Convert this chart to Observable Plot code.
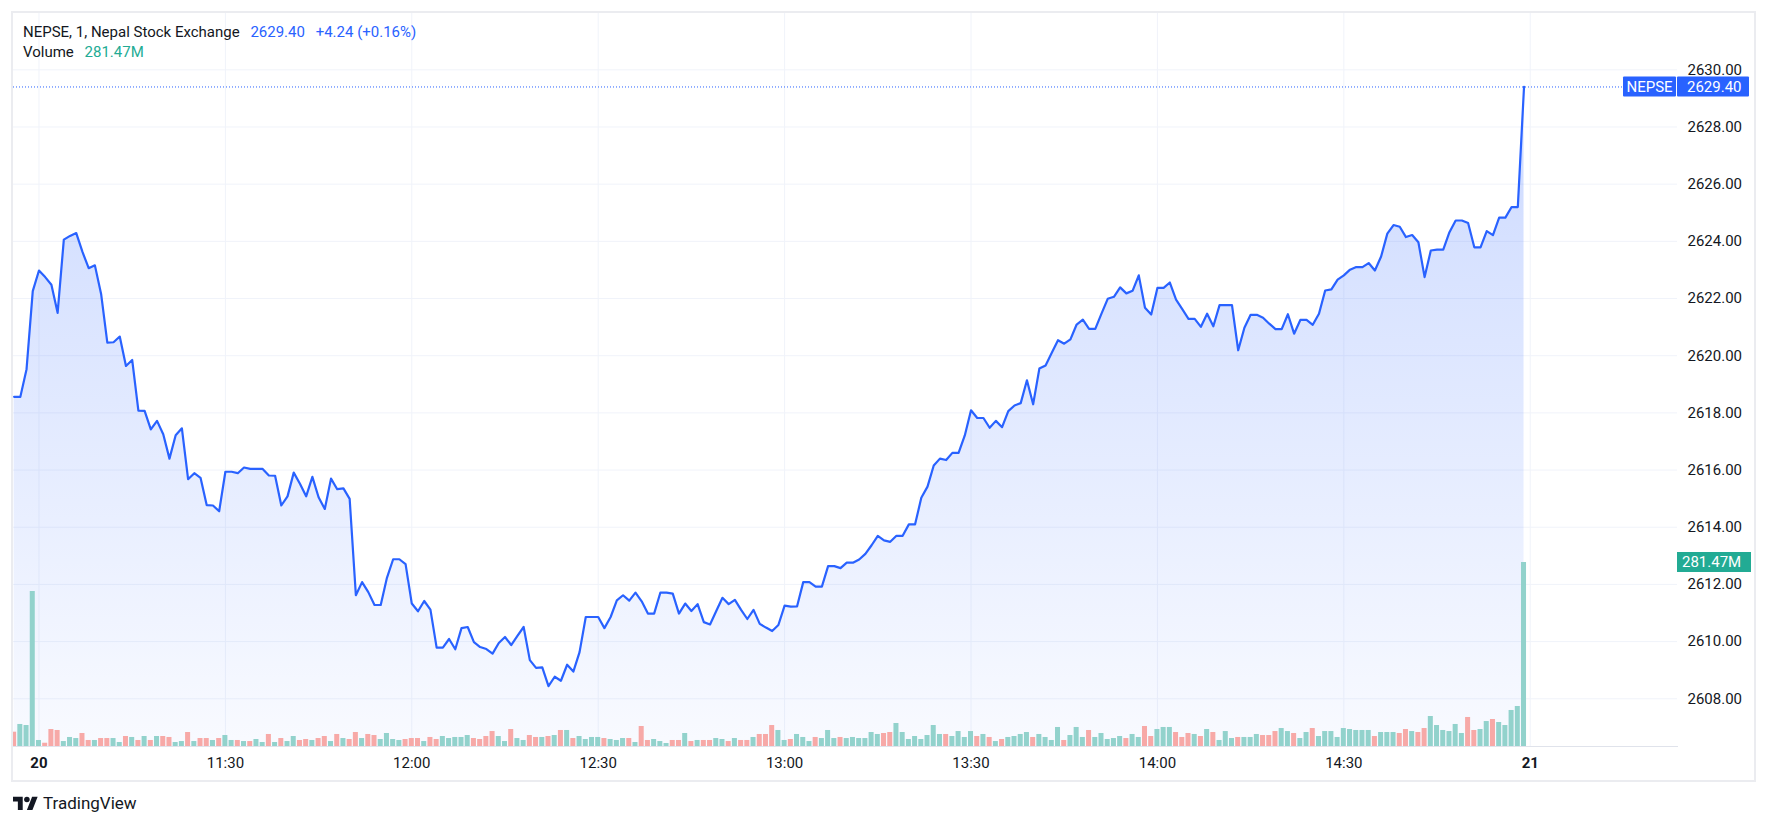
<!DOCTYPE html>
<html>
<head>
<meta charset="utf-8">
<script src="https://cdn.jsdelivr.net/npm/d3@7"></script>
<script src="https://cdn.jsdelivr.net/npm/@observablehq/plot@0.6"></script>
<style>
  html, body { margin: 0; padding: 0; background: #ffffff; }
  body { width: 1767px; height: 825px; overflow: hidden; font-family: Roboto, "Noto Sans", sans-serif; }
  #wrap { position: relative; width: 1767px; height: 825px; }
  #frame { position: absolute; left: 11px; top: 11px; width: 1745px; height: 771px; box-sizing: border-box; border: 2px solid #ebecf0; }
  .layer { position: absolute; left: 0; top: 0; }
  #legend { position: absolute; left: 23px; top: 22px; font-size: 15px; color: #131722; line-height: 20px; }
  #legend span { margin-right: 7px; }
  .blue { color: #2962ff; }
  .green { color: #22ab94; }
  #logo { position: absolute; left: 13px; top: 793px; display: flex; align-items: center; font-size: 17px; color: #131722; }
  #logo svg { margin-right: 5px; }
</style>
</head>
<body>
<div id="wrap">
  <svg width="0" height="0" style="position:absolute">
    <defs>
      <linearGradient id="areaGrad" x1="0" y1="0" x2="0" y2="1">
        <stop offset="0" stop-color="#2962ff" stop-opacity="0.24"></stop>
        <stop offset="1" stop-color="#2962ff" stop-opacity="0.03"></stop>
      </linearGradient>
    </defs>
  </svg>
  <div id="frame"></div>
  <div id="main" class="layer"></div>
  <div id="vol" class="layer"></div>
  <div id="legend">
    <div><span>NEPSE, 1, Nepal Stock Exchange</span> <span class="blue">2629.40</span> <span class="blue">+4.24 (+0.16%)</span></div>
    <div><span>Volume</span> <span class="green">281.47M</span></div>
  </div>
  <div id="logo">
    <svg width="25" height="14" viewBox="0 0 36 20"><path d="M14 20H7V8H0V1h14v19zM28 20h-8L27.5 1h8L28 20z" fill="#131722"></path><circle cx="20" cy="5" r="4" fill="#131722"></circle></svg>
    <span>TradingView</span>
  </div>
</div>
<script>
// ---- data (1-minute bars, index 0..243) ----
const prices = [
  2618.56, 2618.56, 2619.53, 2622.26, 2622.98, 2622.75, 2622.48, 2621.50, 2624.06, 2624.19,
  2624.29, 2623.63, 2623.06, 2623.16, 2622.16, 2620.46, 2620.47, 2620.67, 2619.64, 2619.85,
  2618.08, 2618.07, 2617.42, 2617.72, 2617.25, 2616.40, 2617.22, 2617.46, 2615.68, 2615.89,
  2615.73, 2614.77, 2614.76, 2614.56, 2615.94, 2615.94, 2615.89, 2616.09, 2616.04, 2616.04,
  2616.04, 2615.81, 2615.80, 2614.76, 2615.08, 2615.91, 2615.52, 2615.08, 2615.76, 2615.05,
  2614.64, 2615.70, 2615.33, 2615.36, 2614.99, 2611.62, 2612.08, 2611.73, 2611.28, 2611.28,
  2612.23, 2612.88, 2612.88, 2612.71, 2611.33, 2611.06, 2611.42, 2611.12, 2609.79, 2609.79,
  2610.09, 2609.73, 2610.47, 2610.51, 2609.98, 2609.81, 2609.74, 2609.58, 2609.95, 2610.16,
  2609.88, 2610.20, 2610.51, 2609.35, 2609.08, 2609.10, 2608.44, 2608.77, 2608.63, 2609.19,
  2608.95, 2609.63, 2610.86, 2610.86, 2610.86, 2610.47, 2610.86, 2611.44, 2611.62, 2611.43,
  2611.71, 2611.41, 2610.98, 2610.98, 2611.71, 2611.71, 2611.68, 2610.98, 2611.33, 2611.07,
  2611.31, 2610.68, 2610.60, 2611.07, 2611.53, 2611.31, 2611.46, 2611.11, 2610.79, 2611.11,
  2610.62, 2610.49, 2610.37, 2610.58, 2611.26, 2611.22, 2611.23, 2612.08, 2612.08, 2611.92,
  2611.92, 2612.64, 2612.64, 2612.57, 2612.76, 2612.76, 2612.87, 2613.07, 2613.37, 2613.70,
  2613.54, 2613.49, 2613.70, 2613.70, 2614.10, 2614.10, 2615.03, 2615.42, 2616.16, 2616.40,
  2616.35, 2616.60, 2616.60, 2617.21, 2618.09, 2617.82, 2617.82, 2617.48, 2617.72, 2617.50,
  2618.06, 2618.26, 2618.34, 2619.14, 2618.30, 2619.55, 2619.66, 2620.10, 2620.54, 2620.42,
  2620.57, 2621.09, 2621.26, 2620.94, 2620.94, 2621.47, 2621.99, 2622.06, 2622.39, 2622.18,
  2622.27, 2622.81, 2621.68, 2621.44, 2622.37, 2622.37, 2622.56, 2621.96, 2621.63, 2621.29,
  2621.29, 2621.01, 2621.47, 2621.03, 2621.77, 2621.77, 2621.77, 2620.19, 2620.98, 2621.43,
  2621.43, 2621.33, 2621.12, 2620.93, 2620.93, 2621.45, 2620.77, 2621.25, 2621.25, 2621.08,
  2621.47, 2622.28, 2622.32, 2622.66, 2622.81, 2623.01, 2623.10, 2623.10, 2623.24, 2622.98,
  2623.47, 2624.27, 2624.57, 2624.51, 2624.15, 2624.22, 2623.97, 2622.75, 2623.68, 2623.71,
  2623.71, 2624.32, 2624.73, 2624.73, 2624.64, 2623.79, 2623.79, 2624.36, 2624.22, 2624.83,
  2624.83, 2625.20, 2625.20, 2629.40
];

// volume in millions
const volumes = [
  21.9, 33.7, 32.1, 237.1, 9.2, 5.0, 26.0, 24.5, 7.6, 13.8,
  12.2, 19.9, 9.2, 9.2, 12.2, 12.2, 12.2, 6.1, 15.3, 13.8,
  9.2, 15.3, 9.2, 15.3, 15.3, 13.8, 6.1, 7.6, 21.4, 7.6,
  12.2, 12.2, 9.2, 12.2, 16.8, 9.2, 9.2, 7.6, 7.6, 10.7,
  6.1, 18.4, 6.1, 12.2, 7.6, 15.3, 9.2, 10.7, 9.2, 12.2,
  15.3, 7.6, 18.4, 12.2, 10.7, 21.4, 12.2, 18.4, 16.8, 10.7,
  19.9, 10.7, 9.2, 10.7, 12.2, 12.2, 7.6, 13.8, 10.7, 15.3,
  12.2, 13.8, 13.8, 16.8, 12.2, 10.7, 15.3, 22.9, 15.3, 7.6,
  26.0, 12.2, 9.2, 16.8, 13.8, 13.8, 15.3, 16.8, 24.5, 24.5,
  12.2, 15.3, 10.7, 13.8, 13.8, 12.2, 10.7, 9.2, 12.2, 12.2,
  6.1, 30.6, 9.2, 10.7, 7.6, 4.6, 9.2, 9.2, 19.9, 7.6,
  9.2, 9.2, 9.2, 12.2, 10.7, 7.6, 12.2, 9.2, 9.2, 13.8,
  18.4, 18.4, 32.1, 24.5, 9.2, 10.7, 18.4, 13.8, 7.6, 13.8,
  12.2, 24.5, 12.2, 13.8, 12.2, 13.8, 12.2, 12.2, 21.4, 18.4,
  19.9, 21.4, 35.2, 21.4, 10.7, 15.3, 10.7, 16.8, 32.1, 18.4,
  18.4, 15.3, 22.9, 13.8, 22.9, 15.3, 18.4, 13.8, 7.6, 10.7,
  13.8, 15.3, 18.4, 21.4, 13.8, 18.4, 13.8, 9.2, 29.1, 9.2,
  16.8, 29.1, 13.8, 24.5, 13.8, 19.9, 10.7, 12.2, 15.3, 12.2,
  18.4, 13.8, 30.6, 15.3, 26.0, 29.1, 29.1, 21.4, 13.8, 19.9,
  18.4, 15.3, 26.0, 21.4, 9.2, 22.9, 12.2, 13.8, 13.8, 13.8,
  18.4, 16.8, 16.8, 22.9, 27.5, 22.9, 19.9, 12.2, 21.4, 27.5,
  15.3, 22.9, 22.9, 13.8, 27.5, 26.0, 24.5, 24.5, 24.5, 15.3,
  21.4, 21.4, 21.4, 19.9, 26.0, 22.9, 21.4, 27.5, 45.9, 32.1,
  24.5, 22.9, 33.7, 19.9, 44.4, 24.5, 26.0, 38.2, 41.3, 36.7,
  32.1, 55.1, 61.2, 281.47
];

// bar direction (g = up, r = down) as seen in the picture
const volumeDirection = (
  "rggggrrrgg" + "grrgrrggrg" + "rgrgrrggrg" + "rrgrggrgrg" + "grgrggrrgr" +
  "rgrgrrgrrg" + "gggrrrgrrg" + "ggggrrrrgg" + "rggrrgrgrg" + "rggggrgggr" +
  "grrgggrrgr" + "grrggrgrrg" + "rrrggrgggr" + "gggrgggggg" + "rrgggggggg" +
  "rggggrgrgr" + "ggggrggggr" + "gggrgggggr" + "ggrrgggrrr" + "grgrgggrgg" +
  "grrrggrggr" + "gggggggggr" + "gggrrgrrgg" + "ggggrrggrg" + "gggg"
).split("");

const priceTicks = [2608, 2610, 2612, 2614, 2616, 2618, 2620, 2622, 2624, 2626, 2628, 2630];
const timeTickIndex = [4, 34, 64, 94, 124, 154, 184, 214, 244];
const timeTickLabels = ["20", "11:30", "12:00", "12:30", "13:00", "13:30", "14:00", "14:30", "21"];
const dayTickIndex = [4, 244];

const lastPrice = 2629.40;
const lastVolume = 281.47;
const symbolName = "NEPSE";

const data = prices.map((p, i) => ({ i, price: p, vol: volumes[i], dir: volumeDirection[i] }));

// ---- layout ----
const W = 1767, H = 825;
const margins = { marginLeft: 13, marginRight: 90, marginTop: 13, marginBottom: 79 };
const xDomain = [-0.1, 267.7];
const yDomain = [2606.33, 2631.97];
const font = "Roboto, 'Noto Sans', sans-serif";
const labelOf = d => timeTickLabels[timeTickIndex.indexOf(d)];

const main = Plot.plot({
  width: W, height: H, ...margins,
  style: { background: "transparent", fontFamily: font, fontSize: "15px", color: "#131722", overflow: "visible" },
  x: { domain: xDomain, axis: null },
  y: { domain: yDomain, axis: null },
  marks: [
    Plot.gridY(priceTicks, { stroke: "#f0f3fa", strokeOpacity: 1 }),
    Plot.gridX(timeTickIndex, { stroke: "#f0f3fa", strokeOpacity: 1 }),
    Plot.areaY(data, { x: "i", y1: yDomain[0], y2: "price", fill: "url(#areaGrad)", clip: true }),
    Plot.lineY(data, { x: "i", y: "price", stroke: "#2962ff", strokeWidth: 2.2, clip: true }),
    Plot.ruleY([lastPrice], { stroke: "#2962ff", strokeWidth: 1, strokeDasharray: "1,2" }),
    Plot.axisY(priceTicks, { anchor: "right", tickSize: 0, tickPadding: 10, tickFormat: d => d.toFixed(2), label: null, fill: "#131722", fontSize: 15 }),
    Plot.axisX(timeTickIndex.filter(d => !dayTickIndex.includes(d)), { anchor: "bottom", tickSize: 0, tickPadding: 11, tickFormat: labelOf, label: null, fill: "#131722", fontSize: 15 }),
    Plot.axisX(dayTickIndex, { anchor: "bottom", tickSize: 0, tickPadding: 11, tickFormat: labelOf, label: null, fill: "#131722", fontSize: 15, fontWeight: "bold" }),
    Plot.frame({ anchor: "bottom", stroke: "#e0e3eb" })
  ]
});
document.getElementById("main").appendChild(main);

const vol = Plot.plot({
  width: W, height: H, ...margins,
  style: { background: "transparent", overflow: "visible" },
  x: { domain: xDomain, axis: null },
  y: { domain: [0, lastVolume], range: [746, 562], axis: null },
  color: { type: "identity" },
  marks: [
    Plot.rectY(data, {
      x1: d => d.i - 0.5, x2: d => d.i + 0.5, y1: 0, y2: "vol",
      fill: d => d.dir === "g" ? "#92d2cc" : "#f7a9a7",
      insetLeft: 0.6, insetRight: 0.6, clip: true
    })
  ]
});
document.getElementById("vol").appendChild(vol);

// ---- price-axis labels positioned through the scales ----
const xs = main.scale("x"), ys = main.scale("y"), vs = vol.scale("y");
const xr = xs.range[1];
const svgMain = d3.select(main);
const yP = ys.apply(lastPrice);
const gP = svgMain.append("g").attr("font-family", font).attr("font-size", 15).attr("text-anchor", "start");
gP.append("rect").attr("x", xr - 54).attr("y", yP - 10).attr("width", 53).attr("height", 20).attr("fill", "#2962ff").attr("rx", 1);
gP.append("text").attr("x", xr - 27.5).attr("y", yP).attr("dy", "0.35em").attr("text-anchor", "middle").attr("fill", "#fff").text(symbolName);
gP.append("rect").attr("x", xr).attr("y", yP - 10).attr("width", 72).attr("height", 20).attr("fill", "#2962ff").attr("rx", 1);
gP.append("text").attr("x", xr + 10).attr("y", yP).attr("dy", "0.35em").attr("text-anchor", "start").attr("fill", "#fff").text(lastPrice.toFixed(2));

const svgVol = d3.select(vol);
const yV = vs.apply(lastVolume);
const gV = svgVol.append("g").attr("font-family", font).attr("font-size", 15).attr("text-anchor", "start");
gV.append("rect").attr("x", xr).attr("y", yV - 10).attr("width", 74).attr("height", 20).attr("fill", "#22ab94");
gV.append("text").attr("x", xr + 5).attr("y", yV).attr("dy", "0.35em").attr("text-anchor", "start").attr("fill", "#fff").text(lastVolume.toFixed(2) + "M");
</script>
</body>
</html>
